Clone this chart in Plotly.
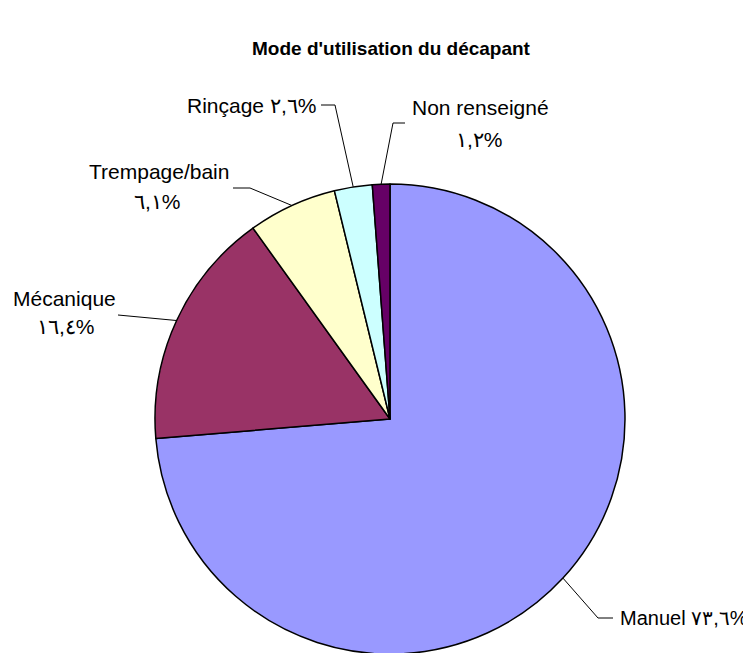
import math
import plotly.graph_objects as go

# ---- data ----
labels = ["Manuel", "Mécanique", "Trempage/bain", "Rinçage", "Non renseigné"]
values = [73.6, 16.4, 6.1, 2.6, 1.2]
colors = ["#9999FF", "#993366", "#FFFFCC", "#CCFFFF", "#660066"]
title_text = "Mode d'utilisation du décapant"

W, H = 751, 653
OFF = 8  # default page body margin shifts the figure by 8px
cx, cy, r = 390, 419, 235  # pie geometry in visible pixels (top-left origin)
FONT = "Liberation Sans, Arial, sans-serif"
FS = 21


def arabic(v):
    s = f"{v:.1f}".replace(".", ",")
    return s.translate(str.maketrans("0123456789", "٠١٢٣٤٥٦٧٨٩")) + "%"


def px(x, y):
    return (x - OFF) / W, 1 - (y - OFF) / H


fx, fy = cx - OFF, cy - OFF
fig = go.Figure(go.Pie(
    labels=labels, values=values, sort=False, direction="clockwise", rotation=0,
    marker=dict(colors=colors, line=dict(color="black", width=1.5)),
    textinfo="none", hoverinfo="label+percent", showlegend=False,
    domain=dict(x=[(fx - r) / W, (fx + r) / W],
                y=[max(0, (H - fy - r) / H), (H - fy + r) / H]),
))

# anchor points on the pie edge at each slice's mid angle
total = sum(values)
anchors = []
cum = 0
for v in values:
    mid = (cum + v / 2) / total * 2 * math.pi
    anchors.append((cx + r * math.sin(mid), cy - r * math.cos(mid)))
    cum += v

# label layout: (text lines, [(x, y, xanchor, size)], leader path points ending at anchor)
layout_spec = [
    ([f"{labels[0]} {arabic(values[0])}"], [(618, 618, "left", 20)], [(613, 618), (598, 618)]),
    ([labels[1], arabic(values[1])], [(64, 298, "center", FS), (66, 326, "center", FS)], [(118, 315)]),
    ([labels[2], arabic(values[2])], [(159, 171, "center", FS), (157, 201, "center", FS)], [(233, 188), (250, 188)]),
    ([f"{labels[3]} {arabic(values[3])}"], [(318, 106, "right", FS)], [(321, 105), (335, 105)]),
    ([labels[4], arabic(values[4])], [(410, 108, "left", FS), (479, 139, "center", FS)], [(405, 123), (393, 123)]),
]

annotations = []
shapes = []
for i, (lines, poss, path) in enumerate(layout_spec):
    for t, (x, y, xa, fs) in zip(lines, poss):
        ax, ay = px(x, y)
        annotations.append(dict(text=t, x=ax, y=ay, xref="paper", yref="paper",
                                xanchor=xa, yanchor="middle", showarrow=False,
                                font=dict(family=FONT, size=fs, color="black")))
    pts = path + [anchors[i]]
    for (x0, y0), (x1, y1) in zip(pts[:-1], pts[1:]):
        a0, b0 = px(x0, y0)
        a1, b1 = px(x1, y1)
        shapes.append(dict(type="line", x0=a0, y0=b0, x1=a1, y1=b1,
                           xref="paper", yref="paper", line=dict(color="black", width=1)))

tx, ty = px(391, 48)
fig.update_layout(
    width=W, height=H,
    margin=dict(l=0, r=0, t=0, b=0),
    paper_bgcolor="white", plot_bgcolor="white",
    title=dict(text=f"<b>{title_text}</b>", x=tx, xanchor="center", y=ty,
               yanchor="middle", font=dict(family=FONT, size=19, color="black")),
    annotations=annotations, shapes=shapes,
)

fig.write_html("out.html")
